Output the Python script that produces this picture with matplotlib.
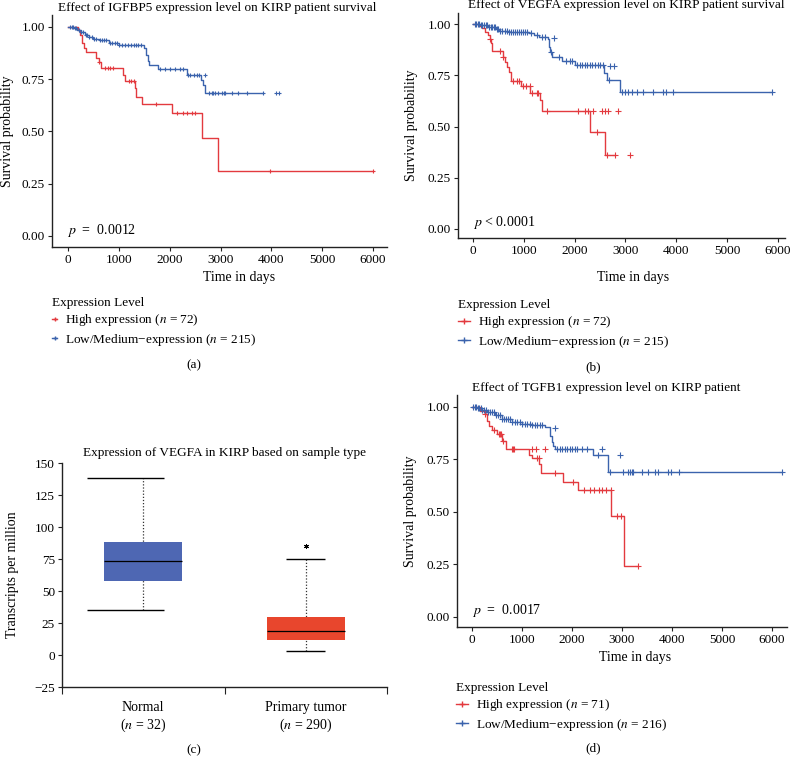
import numpy as np
import matplotlib
matplotlib.use("Agg")
import matplotlib.pyplot as plt
from matplotlib.lines import Line2D

plt.rcParams['font.family'] = ['Liberation Serif', 'DejaVu Serif']
plt.rcParams['mathtext.fontset'] = 'stix'

RED = '#e33a3f'
BLUE = '#3b63ad'

# ---- (a) IGFBP5 ----
a_hi_t = [0, 200, 230, 280, 320, 350, 560, 600, 640, 1090, 1130, 1310, 1340, 1460, 2050, 2630, 2960]
a_hi_s = [1.0, .986, .962, .922, .898, .879, .85, .834, .805, .77, .742, .707, .667, .63, .587, .467, .312]
a_hi_end = 5990
a_hi_cens = [615, 730, 790, 830, 890, 1190, 1240, 1290, 1730, 2140, 2270, 2340, 2430, 2500, 3975, 5990]
a_hi_xt, a_hi_xs = [], []

a_lo_t = [0, 100, 180, 250, 330, 420, 500, 600, 800, 1000, 1490, 1530, 1570, 1600, 1780, 2340, 2620, 2650, 2690]
a_lo_s = [1.0, .995, .985, .975, .962, .952, .944, .935, .925, .912, .898, .866, .835, .817, .80, .77, .746, .72, .686]
a_lo_end = 3840
a_lo_cens = [40, 70, 95, 130, 160, 210, 260, 300, 350, 380, 420, 470, 520, 560, 620, 660, 700, 750, 820,
             870, 920, 960, 1000, 1060, 1120, 1180, 1230, 1290, 1330, 1380, 1440, 1810, 1910, 2000, 2100,
             2200, 2270, 2360, 2400, 2470, 2530, 2580, 2780, 2830, 2860, 2900, 2950, 3025, 3060, 3090,
             3220, 3350, 3530, 3840]
a_lo_xt, a_lo_xs = [2690, 4095, 4155], [.77, .686, .686]

# ---- (b) VEGFA ----
b_hi_t = [0, 110, 180, 240, 290, 330, 355, 375, 600, 635, 665, 700, 740, 940, 1125, 1320, 1355, 2305, 2600]
b_hi_s = [1.0, .99, .98, .962, .946, .925, .906, .87, .84, .815, .79, .765, .72, .698, .663, .63, .578, .475, .36]
b_hi_end = 2800
b_hi_cens = [330, 530, 600, 790, 860, 905, 985, 1050, 1115, 1170, 1250, 1280, 1450, 2075, 2205, 2270, 2435, 2630, 2800]
b_hi_xt, b_hi_xs = [2360, 2530, 2600, 2660, 2860, 3090], [.578, .578, .578, .578, .578, .36]

b_lo_t = [0, 150, 300, 450, 520, 700, 1100, 1200, 1300, 1480, 1500, 1520, 1560, 1750, 2000, 2580, 2640, 2900]
b_lo_s = [1.0, .993, .985, .975, .968, .962, .955, .947, .938, .928, .89, .865, .84, .818, .798, .762, .725, .667]
b_lo_end = 5890
b_lo_cens = [30, 60, 90, 120, 150, 180, 210, 250, 280, 320, 350, 380, 410, 440, 470, 500, 540, 580, 620,
             660, 700, 740, 780, 820, 860, 900, 940, 980, 1020, 1060, 1150, 1250, 1350, 1420, 1540, 1700,
             1830, 1900, 1950, 2050, 2100, 2150, 2200, 2250, 2300, 2350, 2400, 2450, 2500, 2550, 2680,
             2925, 2990, 3056, 3122, 3220, 3350, 3550, 3745, 3800, 3930, 5890]
b_lo_xt, b_lo_xs = [1600, 2690, 2770], [.93, .795, .795]

# ---- (d) TGFB1 ----
d_hi_t = [0, 150, 250, 300, 340, 400, 500, 600, 680, 1130, 1200, 1340, 1380, 1820, 2125, 2780, 3040]
d_hi_s = [1.0, .983, .967, .935, .91, .888, .872, .84, .80, .77, .755, .73, .685, .645, .603, .482, .244]
d_hi_end = 3320
d_hi_cens = [260, 430, 530, 560, 580, 620, 790, 810, 830, 1290, 1330, 1660, 2020, 2230, 2360, 2430,
             2530, 2590, 2680, 2770, 2890, 2970, 3320]
d_hi_xt, d_hi_xs = [1190, 1280, 1460], [.80, .80, .80]

d_lo_t = [0, 100, 200, 300, 450, 600, 800, 1000, 1200, 1450, 1560, 1590, 1620, 1650, 2420, 2720]
d_lo_s = [1.0, .995, .985, .975, .96, .945, .93, .92, .912, .904, .864, .832, .815, .80, .769, .69]
d_lo_end = 6195
d_lo_cens = [20, 50, 80, 110, 140, 170, 200, 240, 280, 320, 360, 400, 440, 480, 520, 560, 600, 640, 680,
             720, 760, 800, 850, 900, 950, 1000, 1050, 1100, 1150, 1200, 1250, 1300, 1350, 1400, 1700,
             1750, 1800, 1850, 1900, 1950, 2000, 2050, 2100, 2200, 2300, 2525, 2760, 3013, 3127, 3160,
             3193, 3227, 3393, 3527, 3660, 3727, 3927, 3973, 4140, 6195]
d_lo_xt, d_lo_xs = [1660, 2590, 2960], [.90, .80, .77]

# ---- (c) boxplot ----
box_names = ['Normal\n($n$ = 32)', 'Primary tumor\n($n$ = 290)']
box_q1 = [57.5, 12]
box_med = [73.5, 18.5]
box_q3 = [88, 29.5]
box_lo = [35.5, 3.5]
box_hi = [138.5, 75]
box_colors = ['#4e67b3', '#e8462d']
out_x = [2]
out_y = [85]

W, H = 793, 767
fig = plt.figure(figsize=(W / 100, H / 100), dpi=100)


def add_ax(l, t, r, b):
    return fig.add_axes([l / W, 1 - b / H, (r - l) / W, (b - t) / H])


def ftext(x, y, s, **kw):
    fig.text(x / W, 1 - y / H, s, **kw)


def style(ax):
    for sp in ['top', 'right']:
        ax.spines[sp].set_visible(False)
    for sp in ['left', 'bottom']:
        ax.spines[sp].set_color('#222222')
        ax.spines[sp].set_linewidth(1.0)
    ax.tick_params(direction='out', length=3, width=0.8, labelsize=9.5, color='#222222', pad=2)


def km(ax, t, s, end, cens, xt, xs, color, ms):
    t = np.array(t, float)
    s = np.array(s, float)
    ax.step(np.append(t, end), np.append(s, s[-1]), where='post', color=color, lw=1.0)
    cy = s[np.searchsorted(t, cens, side='right') - 1]
    ax.plot(cens, cy, ls='none', marker='+', ms=ms, mew=0.8, color=color)
    if xt:
        ax.plot(xt, xs, ls='none', marker='+', ms=ms, mew=0.8, color=color)


def km_panel(box, xlim, ylim, curves, title, tpos, ptext, ylab_x, xlab_pos, leg_pos, labels, ms, hl):
    ax = add_ax(*box)
    style(ax)
    for c in curves:
        km(ax, *c[:-1], c[-1], ms)
    ax.set_xlim(*xlim)
    ax.set_ylim(*ylim)
    ax.set_xticks(range(0, 6001, 1000))
    ax.set_yticks([0, .25, .5, .75, 1.0])
    ax.set_yticklabels(['0.00', '0.25', '0.50', '0.75', '1.00'])
    ax.text(0.045, 0.07, ptext, transform=ax.transAxes, fontsize=10, va='center')
    ftext(tpos[0], tpos[1], title, fontsize=9.5, ha='left', va='center')
    ftext(ylab_x, (box[1] + box[3]) / 2, 'Survival probability', fontsize=10, rotation=90,
          ha='center', va='center')
    ftext(xlab_pos[0], xlab_pos[1], 'Time in days', fontsize=10, ha='center', va='center')
    handles = [Line2D([], [], color=RED, marker='+', ms=ms, lw=1.0),
               Line2D([], [], color=BLUE, marker='+', ms=ms, lw=1.0)]
    fig.legend(handles, labels, title='Expression Level', loc='upper left',
               bbox_to_anchor=(leg_pos[0] / W, 1 - leg_pos[1] / H), frameon=False,
               alignment='left', handlelength=hl, handletextpad=0.6, labelspacing=0.25,
               borderpad=0, borderaxespad=0, fontsize=9.5, title_fontsize=9.5)
    return ax


lab72 = ['High expression ($n$ = 72)', 'Low/Medium\u2212expression ($n$ = 215)']

km_panel((52, 15, 387, 247), (-315, 6275), (-0.053, 1.057),
         [(a_hi_t, a_hi_s, a_hi_end, a_hi_cens, a_hi_xt, a_hi_xs, RED),
          (a_lo_t, a_lo_s, a_lo_end, a_lo_cens, a_lo_xt, a_lo_xs, BLUE)],
         'Effect of IGFBP5 expression level on KIRP patient survival', (58, 8),
         '$p$  =  0.0012', 8, (239, 277), (52, 297), lab72, 3.5, 0.4)

km_panel((458, 13, 785, 238), (-295, 6138), (-0.044, 1.054),
         [(b_hi_t, b_hi_s, b_hi_end, b_hi_cens, b_hi_xt, b_hi_xs, RED),
          (b_lo_t, b_lo_s, b_lo_end, b_lo_cens, b_lo_xt, b_lo_xs, BLUE)],
         'Effect of VEGFA expression level on KIRP patient survival', (468, 5),
         '$p$ < 0.0001', 412, (633, 278), (458, 299), lab72, 5, 0.9)

km_panel((457, 395, 787, 627), (-300, 6300), (-0.048, 1.057),
         [(d_hi_t, d_hi_s, d_hi_end, d_hi_cens, d_hi_xt, d_hi_xs, RED),
          (d_lo_t, d_lo_s, d_lo_end, d_lo_cens, d_lo_xt, d_lo_xs, BLUE)],
         'Effect of TGFB1 expression level on KIRP patient', (472, 388),
         '$p$  =  0.0017', 410, (635, 658), (456, 682),
         ['High expression ($n$ = 71)', 'Low/Medium\u2212expression ($n$ = 216)'], 5, 0.9)

# ---- (c) ----
axc = add_ax(62, 463, 387, 687)
style(axc)
xs = np.arange(1, len(box_names) + 1)
cap_c = [0.89, 2.0]
cap_w = [0.47, 0.24]
for i, x in enumerate(xs):
    axc.vlines(x, box_lo[i], box_hi[i], color='#333333', lw=0.9, linestyles=(0, (1, 1.5)), zorder=1)
    axc.hlines([box_lo[i], box_hi[i]], cap_c[i] - cap_w[i] / 2, cap_c[i] + cap_w[i] / 2,
               color='black', lw=1.0, zorder=2)
axc.bar(xs, np.subtract(box_q3, box_q1), bottom=box_q1, width=0.48, color=box_colors, zorder=3)
axc.hlines(box_med, xs - 0.24, xs + 0.24, color='black', lw=0.9, zorder=4)
axc.plot(out_x, out_y, ls='none', marker=(6, 2, 0), ms=3.5, mew=0.7, color='black')
axc.set_xlim(0.5, 2.5)
axc.set_ylim(-25, 150)
axc.set_yticks(range(-25, 151, 25))
axc.set_yticklabels(['\u221225', '0', '25', '50', '75', '100', '125', '150'])
axc.set_xticks(xs)
axc.set_xticklabels(box_names, fontsize=10)
axc.tick_params(axis='x', which='major', length=0, pad=10)
axc.set_xticks([0.5, 1.5, 2.5], minor=True)
axc.tick_params(axis='x', which='minor', length=5, width=0.8, color='#222222')
ftext(224, 453, 'Expression of VEGFA in KIRP based on sample type', fontsize=9.5, ha='center', va='center')
ftext(13, 575, 'Transcripts per million', fontsize=10, rotation=90, ha='center', va='center')

ftext(194, 365, '(a)', fontsize=9.5, ha='center', va='center')
ftext(593, 367, '(b)', fontsize=9.5, ha='center', va='center')
ftext(194, 750, '(c)', fontsize=9.5, ha='center', va='center')
ftext(593, 748, '(d)', fontsize=9.5, ha='center', va='center')

fig.savefig('out.png', dpi=100)
